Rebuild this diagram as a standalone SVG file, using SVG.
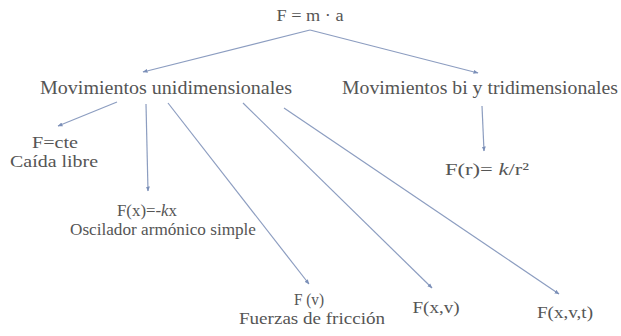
<svg xmlns="http://www.w3.org/2000/svg" width="621" height="336" viewBox="0 0 621 336">
<defs>
<style>
.t{font-family:"Liberation Serif","Times New Roman",serif;fill:#555555;text-anchor:middle}
.m{font-size:18px}
.s{font-size:17px}
.c line{stroke:#8c9dc0;stroke-width:1.2;marker-end:url(#ah)}
</style>
<marker id="ah" viewBox="0 0 10 10" refX="9" refY="5" markerWidth="5" markerHeight="5" orient="auto" markerUnits="userSpaceOnUse">
<path d="M0,1 L10,5 L0,9 z" fill="#7b8fb8"/>
</marker>
</defs>
<rect width="621" height="336" fill="#ffffff"/>
<g class="c" id="connectors">
<line x1="310" y1="30" x2="143" y2="72"/>
<line x1="310" y1="30" x2="478" y2="73"/>
<line x1="117" y1="102" x2="58" y2="126"/>
<line x1="146" y1="104" x2="148" y2="191"/>
<line x1="168" y1="103" x2="309" y2="284"/>
<line x1="243" y1="103" x2="432" y2="288"/>
<line x1="284" y1="108" x2="559" y2="294"/>
<line x1="482" y1="106" x2="484" y2="151"/>
</g>
<g id="n-root"><text class="t s" x="310" y="21" textLength="67" lengthAdjust="spacingAndGlyphs">F = m · a</text></g>
<g id="n-uni"><text class="t m" x="166" y="94" textLength="252" lengthAdjust="spacingAndGlyphs">Movimientos unidimensionales</text></g>
<g id="n-bi"><text class="t m" x="480" y="94" textLength="276" lengthAdjust="spacingAndGlyphs">Movimientos bi y tridimensionales</text></g>
<g id="n-cte"><text class="t s" x="55" y="148" textLength="46" lengthAdjust="spacingAndGlyphs">F=cte</text>
<text class="t s" x="54" y="167" textLength="88" lengthAdjust="spacingAndGlyphs">Caída libre</text></g>
<g id="n-osc"><text class="t s" x="147" y="216" textLength="60" lengthAdjust="spacingAndGlyphs">F(x)=-<tspan font-style="italic">k</tspan>x</text>
<text class="t s" x="163" y="235" textLength="186" lengthAdjust="spacingAndGlyphs">Oscilador armónico simple</text></g>
<g id="n-fr"><text class="t s" x="487" y="175" textLength="84" lengthAdjust="spacingAndGlyphs">F(r)= <tspan font-style="italic">k</tspan>/r²</text></g>
<g id="n-fv"><text class="t s" x="309" y="305" textLength="30" lengthAdjust="spacingAndGlyphs">F (v)</text>
<text class="t s" x="312" y="324" textLength="146" lengthAdjust="spacingAndGlyphs">Fuerzas de fricción</text></g>
<g id="n-fxv"><text class="t s" x="436" y="313" textLength="47" lengthAdjust="spacingAndGlyphs">F(x,v)</text></g>
<g id="n-fxvt"><text class="t s" x="565" y="318" textLength="56" lengthAdjust="spacingAndGlyphs">F(x,v,t)</text></g>
</svg>
